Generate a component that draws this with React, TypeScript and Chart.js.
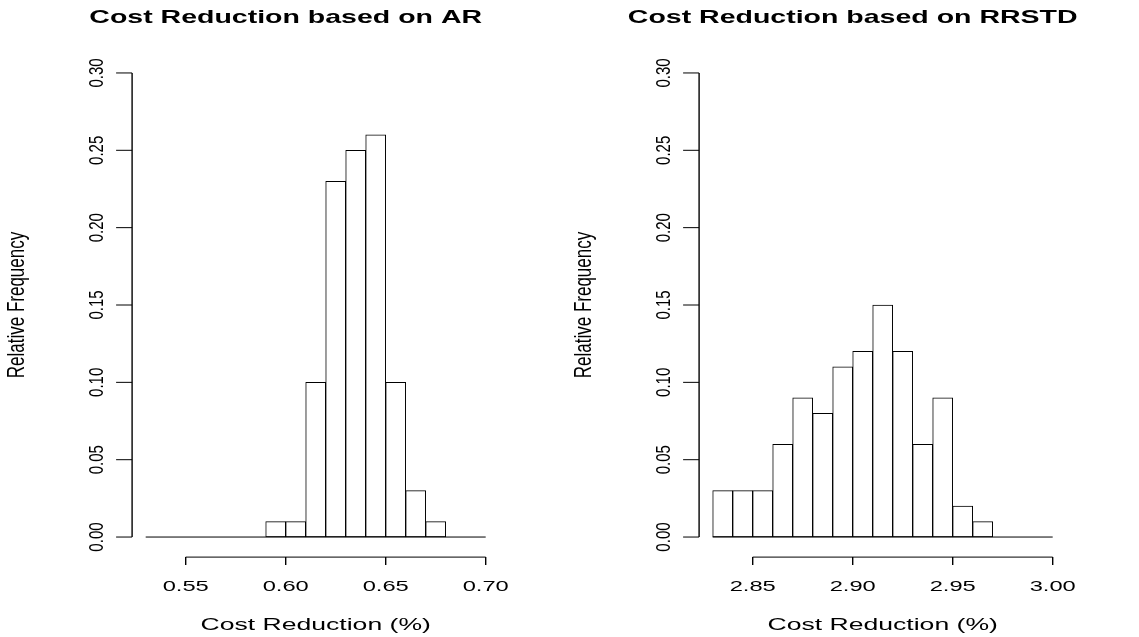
import React, { useEffect, useRef } from "react";
import { Chart, registerables } from "chart.js";

Chart.register(...registerables);

// ---------- data ----------
const arBinEdges = [0.53, 0.54, 0.55, 0.56, 0.57, 0.58, 0.59, 0.6, 0.61, 0.62, 0.63, 0.64, 0.65, 0.66, 0.67, 0.68, 0.69, 0.7];
const arRelFreq = [0, 0, 0, 0, 0, 0, 0.01, 0.01, 0.1, 0.23, 0.25, 0.26, 0.1, 0.03, 0.01, 0, 0];

const rrstdBinEdges = [2.83, 2.84, 2.85, 2.86, 2.87, 2.88, 2.89, 2.9, 2.91, 2.92, 2.93, 2.94, 2.95, 2.96, 2.97, 2.98, 2.99, 3.0];
const rrstdRelFreq = [0.03, 0.03, 0.03, 0.06, 0.09, 0.08, 0.11, 0.12, 0.15, 0.12, 0.06, 0.09, 0.02, 0.01, 0, 0, 0];

const arXTicks = [0.55, 0.6, 0.65, 0.7];
const arXTickLabels = ["0.55", "0.60", "0.65", "0.70"];
const rrstdXTicks = [2.85, 2.9, 2.95, 3.0];
const rrstdXTickLabels = ["2.85", "2.90", "2.95", "3.00"];

const yTicks = [0, 0.05, 0.1, 0.15, 0.2, 0.25, 0.3];
const yTickLabels = ["0.00", "0.05", "0.10", "0.15", "0.20", "0.25", "0.30"];

const arXLim = [0.492, 0.708];
const rrstdXLim = [2.792, 3.008];
const yLim = [-0.012, 0.312];

const titles = ["Cost Reduction based on AR", "Cost Reduction based on RRSTD"];
const xTitle = "Cost Reduction (%)";
const yTitle = "Relative Frequency";

// ---------- style ----------
const FONT = '"Liberation Sans", Arial, Helvetica, sans-serif';
const STRETCH = 1.58;
const VSTRETCH = 1.4;
const PANEL_W = 567;
const PANEL_H = 637;

type PanelCfg = {
  edges: number[];
  freq: number[];
  xTicks: number[];
  xTickLabels: string[];
  xLim: number[];
  title: string;
};

function drawText(
  ctx: CanvasRenderingContext2D,
  text: string,
  x: number,
  y: number,
  font: string,
  align: CanvasTextAlign,
  rotate: boolean,
  stretch: number
) {
  ctx.save();
  ctx.translate(x, y);
  ctx.scale(stretch, 1);
  if (rotate) ctx.rotate(-Math.PI / 2);
  ctx.font = font;
  ctx.textAlign = align;
  ctx.textBaseline = "alphabetic";
  ctx.fillStyle = "#000";
  ctx.fillText(text, 0, 0);
  ctx.restore();
}

function line(ctx: CanvasRenderingContext2D, x1: number, y1: number, x2: number, y2: number) {
  ctx.beginPath();
  ctx.moveTo(x1, y1);
  ctx.lineTo(x2, y2);
  ctx.stroke();
}

function makeAxesPlugin(cfg: PanelCfg) {
  return {
    id: "rAxes",
    afterDraw(chart: any) {
      const ctx: CanvasRenderingContext2D = chart.ctx;
      const xs = chart.scales.x;
      const ys = chart.scales.y;
      const px = (v: number) => xs.getPixelForValue(v);
      const py = (v: number) => ys.getPixelForValue(v);
      const area = chart.chartArea;
      const first = cfg.edges[0];
      const last = cfg.edges[cfg.edges.length - 1];
      ctx.save();
      ctx.strokeStyle = "#000";
      ctx.lineWidth = 1;

      // histogram baseline (zero-height bins)
      line(ctx, px(first), py(0), px(last), py(0));

      // y axis (R-style, at the 4% extended bin range)
      const yAxisAt = first - 0.04 * (last - first);
      const yAxisEnd = last + 0.04 * (last - first);
      const ax = px(yAxisAt);
      ctx.lineWidth = 1.4;
      line(ctx, ax, py(yTicks[0]), ax, py(yTicks[yTicks.length - 1]));
      ctx.lineWidth = 1;
      yTicks.forEach((t, i) => {
        line(ctx, ax - 16, py(t), ax, py(t));
        drawText(ctx, yTickLabels[i], ax - 29, py(t), `15px ${FONT}`, "center", true, VSTRETCH);
      });

      // x axis
      const ay = area.bottom + 1.5;
      line(ctx, px(cfg.xTicks[0]), ay, px(cfg.xTicks[cfg.xTicks.length - 1]), ay);
      ctx.lineWidth = 1.4;
      cfg.xTicks.forEach((t, i) => {
        line(ctx, px(t), ay, px(t), ay + 8);
        drawText(ctx, cfg.xTickLabels[i], px(t), ay + 34, `15px ${FONT}`, "center", false, STRETCH);
      });

      const cx = (area.left + area.right) / 2;
      const plotCx = (ax + px(yAxisEnd)) / 2;
      const cy = (area.top + area.bottom) / 2;
      // titles
      drawText(ctx, cfg.title, cx, 23, `bold 19px ${FONT}`, "center", false, 1.5);
      drawText(ctx, xTitle, plotCx, 630, `16px ${FONT}`, "center", false, 1.66);
      drawText(ctx, yTitle, area.left - 46, cy, `17px ${FONT}`, "center", true, VSTRETCH);
      ctx.restore();
    },
  };
}

function Panel({ left, cfg }: { left: number; cfg: PanelCfg }) {
  const ref = useRef<HTMLCanvasElement>(null);
  useEffect(() => {
    if (!ref.current) return;
    const centers = cfg.freq.map((_, i) => (cfg.edges[i] + cfg.edges[i + 1]) / 2);
    const chart = new Chart(ref.current, {
      type: "bar",
      data: {
        datasets: [
          {
            data: centers.map((c, i) => ({ x: c, y: cfg.freq[i] })),
            backgroundColor: "#ffffff",
            borderColor: "#000000",
            borderWidth: 1,
            borderSkipped: false,
            barPercentage: 1,
            categoryPercentage: 1,
          } as any,
        ],
      },
      options: {
        responsive: false,
        animation: false,
        devicePixelRatio: 1,
        events: [],
        layout: { padding: { left: 69.7, right: PANEL_W - 69.7 - 432, top: 54.4, bottom: PANEL_H - 555.6 } },
        scales: {
          x: {
            type: "linear",
            min: cfg.xLim[0],
            max: cfg.xLim[1],
            offset: false,
            display: false,
            afterBuildTicks: (s: any) => {
              s.ticks = cfg.edges.map((v) => ({ value: v }));
            },
          },
          y: { min: yLim[0], max: yLim[1], display: false },
        },
        plugins: {
          legend: { display: false },
          tooltip: { enabled: false },
          title: { display: false },
        },
      } as any,
      plugins: [makeAxesPlugin(cfg)],
    });
    return () => chart.destroy();
  }, []);
  return (
    <canvas
      ref={ref}
      width={PANEL_W}
      height={PANEL_H}
      style={{ position: "absolute", left, top: 0, width: PANEL_W, height: PANEL_H }}
    />
  );
}

export default function App() {
  const arCfg: PanelCfg = {
    edges: arBinEdges,
    freq: arRelFreq,
    xTicks: arXTicks,
    xTickLabels: arXTickLabels,
    xLim: arXLim,
    title: titles[0],
  };
  const rrCfg: PanelCfg = {
    edges: rrstdBinEdges,
    freq: rrstdRelFreq,
    xTicks: rrstdXTicks,
    xTickLabels: rrstdXTickLabels,
    xLim: rrstdXLim,
    title: titles[1],
  };
  return (
    <div style={{ position: "fixed", left: 0, top: 0, width: 1139, height: 637, background: "#fff" }}>
      <Panel left={0} cfg={arCfg} />
      <Panel left={PANEL_W} cfg={rrCfg} />
    </div>
  );
}
